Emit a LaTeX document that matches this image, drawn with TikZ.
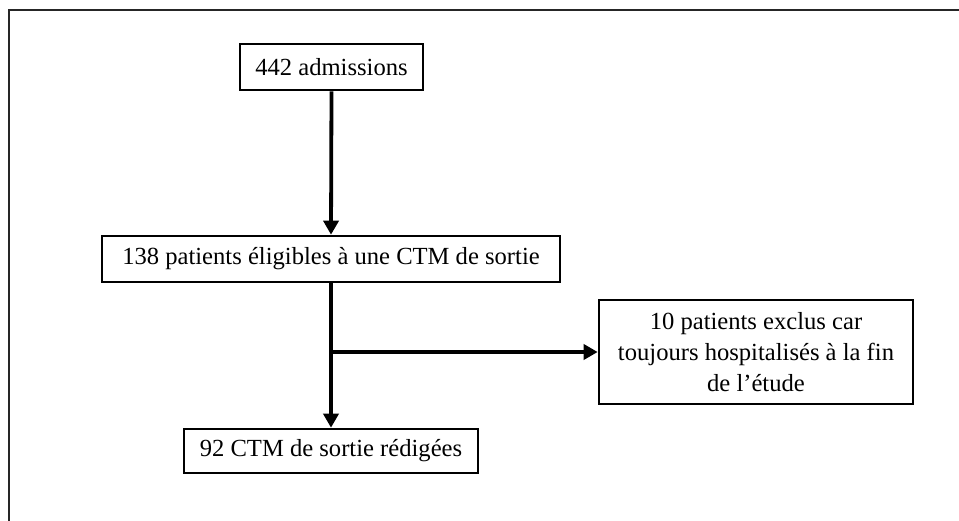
\documentclass[tikz,border=0pt]{standalone}
\usepackage{fontspec}
\setmainfont{Liberation Serif}
\usetikzlibrary{arrows.meta}
\begin{document}
\begin{tikzpicture}[x=1pt,y=-1pt,
  box/.style={draw=black, line width=2.6pt, rectangle, inner sep=0pt,
    font=\fontsize{24.6}{31}\selectfont, align=center},
  flow/.style={line width=3.8pt, -{Triangle[length=14pt,width=15pt]}},
  frameline/.style={draw=black!85, line width=2.2pt}]
\useasboundingbox (0,0) rectangle (959,520);
\draw[frameline] (9,522) -- (9,10) -- (961,10);
\node[box, minimum width=183pt, minimum height=46pt] (n1) at (331.5,67) {442 admissions};
\node[box, minimum width=458pt, minimum height=46pt] (n2) at (331,259) {138 patients éligibles à une CTM de sortie};
\node[box, minimum width=314pt, minimum height=104pt] (n3) at (756,352) {10 patients exclus car\\toujours hospitalisés à la fin\\de l’étude};
\node[box, minimum width=294pt, minimum height=44pt] (n4) at (331,451) {92 CTM de sortie rédigées};
\coordinate (br) at (331,352);
\draw[flow] (n1.south) -- (n2.north);
\draw[flow] (n2.south) -- (n4.north);
\draw[flow] (br) -- (n3.west);
\end{tikzpicture}
\end{document}
